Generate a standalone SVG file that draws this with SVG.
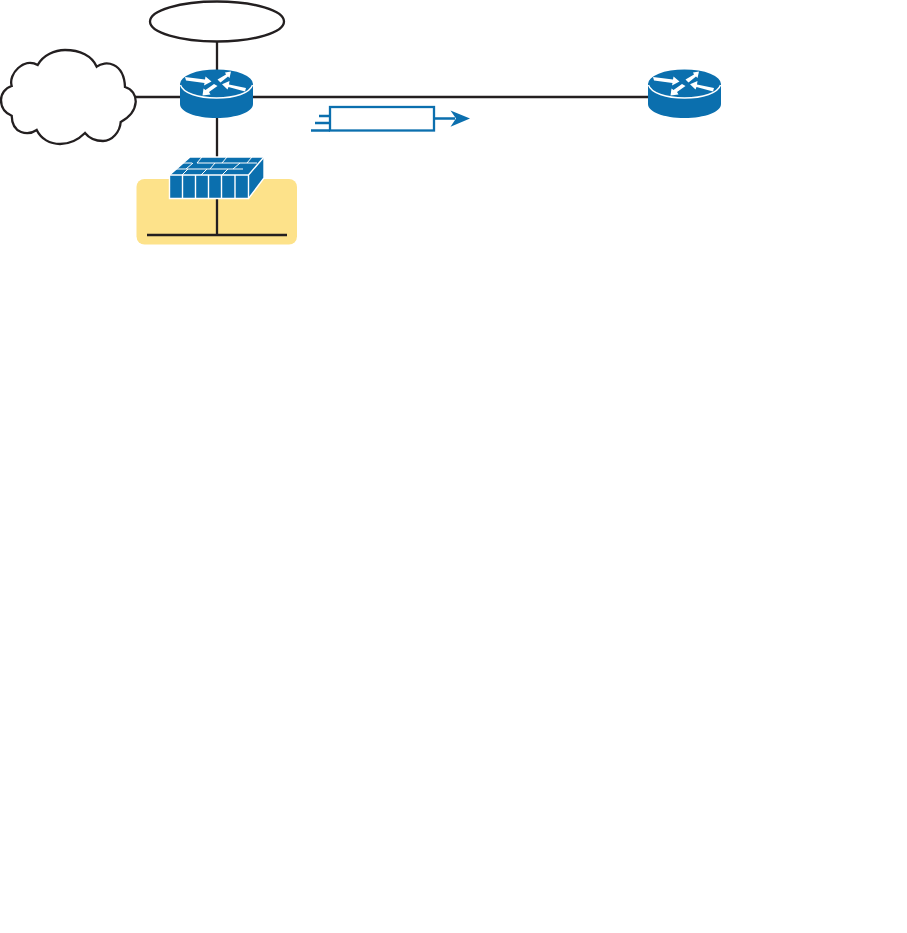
<svg xmlns="http://www.w3.org/2000/svg" width="907" height="933" viewBox="0 0 907 933">
<style>
.k{fill:none;stroke:#231f20;stroke-width:2.300}
.b{fill:none;stroke:#0b6fae;stroke-width:2.300}
.w{fill:none;stroke:#fff;stroke-width:1.400}
.t{fill:none;stroke:#fff;stroke-width:1}
.wf{fill:#fff}
</style>
<defs>
<g id="router">
<path d="M180 84A36.500 14.500 0 0 1 253 84V104C253 112 237 118 216.500 118C196 118 180 112 180 104Z" fill="#0b6fae"/>
<path class="w" d="M180.500 85C183 93 198 98 216.500 98C235 98 250 93 252.500 85"/>
<polygon class="wf" points="185,77 205,79.500 205.500,76.500 211.500,81.500 204,85.500 204.500,83 186,80.500"/>
<polygon class="wf" points="217.500,79.500 226,74.500 225,72.500 231,71.500 229.500,78 228,76.500 220.500,82.500"/>
<polygon class="wf" points="217.500,86 209,92 210.500,94.500 202.500,95.500 203.500,88.500 205.500,90 214,84"/>
<polygon class="wf" points="246,88 229,84.500 229.500,81 222,84.300 227.500,89.500 228.500,87 245,91.500"/>
</g>
</defs>
<g id="connectors">
<path class="k" d="M217 41V70M135 97H180M253 97H648M217 118V158"/>
</g>
<g id="lan">
<rect x="136.500" y="179" width="160.500" height="65.500" rx="8" fill="#fde28a"/>
<path class="k" d="M147 235H287M217 198V235"/>
</g>
<g id="ellipse"><ellipse cx="217" cy="21.500" rx="67" ry="20" fill="#fff" stroke="#231f20" stroke-width="2.300"/></g>
<g id="cloud">
<path fill="#fff" stroke="#231f20" stroke-width="2.300" d="M37.700 65C43 55 55 50 65 50C80 50 92 56 96.700 66.700C105 60 124 62 125 87C132 89 136 95 135.700 102C135 112 128 118 120.700 122C120 132 112 141 103 141C95 141 89 138 85 133C78 140 70 144 60 144C50 144 41 139 36.700 130C28 136 12 134 11.700 115.700C5 113 1 107 1 100C1 94 5 88 11.700 86C8 74 24 57 37.700 65Z"/>
</g>
<g id="router-left"><use href="#router"/></g>
<g id="router-right"><use href="#router" transform="translate(468 0)"/></g>
<g id="firewall">
<polygon points="169.500,175 190,157 264,157 264,178 248.500,198.500 169.500,198.500" fill="#0b6fae" stroke="#fff" stroke-width="1.400"/>
<path class="w" d="M169.500 175H248.500V198.500M248.500 175L264 157M182.500 175V198M195.500 175V198M208.500 175V198M221.500 175V198M235 175V198"/>
<path class="t" d="M183 163H192M197 163H257M176 169H243M202 157L197 163M227 157L222 163M252 157L247 163M193 163L186 169M215 163L210 169M240 163L233 169M188 169L182 175M207 169L201 175M228 169L222 175"/>
</g>
<g id="packet">
<rect x="330" y="107" width="104" height="23.500" fill="#fff" stroke="#0b6fae" stroke-width="2.300"/>
<path class="b" d="M319 116H330M315 123H330M311 130.500H330M434 118.500H455"/>
<polygon points="450.500,110.500 470,118.500 450.500,126.700 456,118.500" fill="#0b6fae"/>
</g>
</svg>
